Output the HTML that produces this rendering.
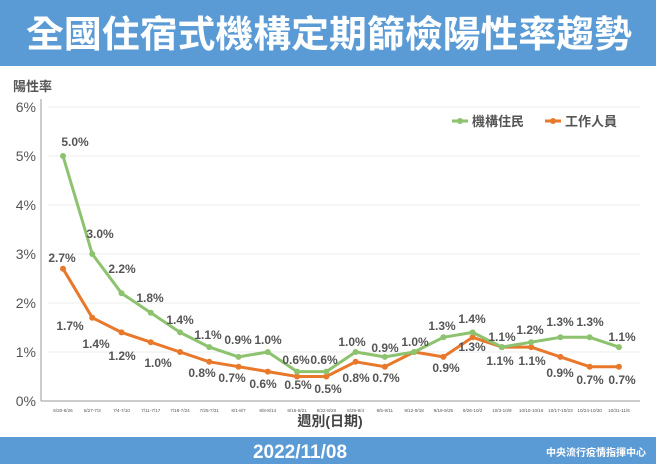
<!DOCTYPE html><html><head><meta charset="utf-8"><style>
body{margin:0;width:656px;height:464px;overflow:hidden;background:#fff}
svg{display:block}
text{font-family:"Liberation Sans","Noto Sans CJK TC",sans-serif}
</style></head><body>
<svg width="656" height="464" viewBox="0 0 656 464">
<rect x="0" y="0" width="656" height="66" fill="#5b9bd5"/>
<text x="329" y="47" text-anchor="middle" fill="#fff" font-size="37" font-weight="bold" textLength="606" lengthAdjust="spacingAndGlyphs">全國住宿式機構定期篩檢陽性率趨勢</text>
<rect x="0" y="437" width="656" height="27" fill="#5b9bd5"/>
<text x="300" y="458" text-anchor="middle" fill="#fff" font-size="19" font-weight="bold">2022/11/08</text>
<text x="596" y="456" text-anchor="middle" fill="#fff" font-size="10" font-weight="bold">中央流行疫情指揮中心</text>
<text x="13" y="91" fill="#555" font-size="13" font-weight="bold">陽性率</text>
<g stroke="#eee" stroke-width="1">
<line x1="48" x2="640" y1="107" y2="107"/><line x1="48" x2="640" y1="156" y2="156"/><line x1="48" x2="640" y1="205" y2="205"/><line x1="48" x2="640" y1="254" y2="254"/><line x1="48" x2="640" y1="303" y2="303"/><line x1="48" x2="640" y1="352" y2="352"/>
</g>
<line x1="41" x2="41" y1="99" y2="401" stroke="#999"/>
<line x1="41" x2="640" y1="401" y2="401" stroke="#999"/>
<g fill="#555" font-size="14" text-anchor="end">
<text x="36" y="112">6%</text><text x="36" y="161">5%</text><text x="36" y="210">4%</text><text x="36" y="259">3%</text><text x="36" y="308">2%</text><text x="36" y="357">1%</text><text x="36" y="406">0%</text>
</g>
<g fill="#555" font-size="4.6" text-anchor="middle" id="xl"></g>
<text x="330" y="426" text-anchor="middle" fill="#444" font-size="14" font-weight="bold">週別(日期)</text>
<line x1="452" x2="468" y1="121" y2="121" stroke="#8dc26f" stroke-width="3"/><circle cx="460" cy="121" r="3" fill="#8dc26f"/>
<text x="472" y="126" fill="#555" font-size="13" font-weight="bold">機構住民</text>
<line x1="545" x2="561" y1="121" y2="121" stroke="#e8782b" stroke-width="3"/><circle cx="553" cy="121" r="3" fill="#e8782b"/>
<text x="565" y="126" fill="#555" font-size="13" font-weight="bold">工作人員</text>
<g id="plot"></g>
</svg>
<script>
var ns="http://www.w3.org/2000/svg";
var labs=["6/20-6/26","6/27-7/3","7/4-7/10","7/11-7/17","7/18-7/24","7/25-7/31","8/1-8/7","8/8-8/14","8/15-8/21","8/22-8/28","8/29-9/4","9/5-9/11","9/12-9/18","9/19-9/25","9/26-10/2","10/3-10/9","10/10-10/16","10/17-10/23","10/24-10/30","10/31-11/6"];
var g=[5.0,3.0,2.2,1.8,1.4,1.1,0.9,1.0,0.6,0.6,1.0,0.9,1.0,1.3,1.4,1.1,1.2,1.3,1.3,1.1];
var o=[2.7,1.7,1.4,1.2,1.0,0.8,0.7,0.6,0.5,0.5,0.8,0.7,1.0,0.9,1.3,1.1,1.1,0.9,0.7,0.7];
var gl=[[75,146],[100,238],[122,273],[150,302],[180,324],[208,339],[238,344],[268,344],[296,364],[324,364],[352,346],[385,352],[415,346],[442,330],[472,323],[502,341],[530,334],[560,326],[590,326],[622,341]];
var ol=[[62,262],[70,330],[96,348],[122,360],[158,367],[202,377],[232,382],[263,388],[298,389],[328,393],[356,382],[386,382],[null,null],[446,372],[472,351],[500,365],[532,365],[560,377],[590,384],[622,384]];
function X(i){return 63+i*29.26}function Y(v){return 401-v*49}
var xl=document.getElementById("xl"),p=document.getElementById("plot");
function el(t,a,par){var e=document.createElementNS(ns,t);for(var k in a)e.setAttribute(k,a[k]);par.appendChild(e);return e}
labs.forEach(function(l,i){var t=el("text",{x:X(i),y:412},xl);t.textContent=l});
[[o,"#e8782b",ol],[g,"#8dc26f",gl]].forEach(function(s){
 el("polyline",{points:s[0].map(function(v,i){return X(i)+","+Y(v)}).join(" "),fill:"none",stroke:s[1],"stroke-width":3,"stroke-linejoin":"round"},p);
 s[0].forEach(function(v,i){el("circle",{cx:X(i),cy:Y(v),r:3,fill:s[1]},p);});
 s[0].forEach(function(v,i){var q=s[2][i];if(q[0]==null)return;var t=el("text",{x:q[0],y:q[1],"text-anchor":"middle",fill:"#555","font-size":12,"font-weight":"bold"},p);t.textContent=v.toFixed(1)+"%";});
});
</script>
</body></html>
